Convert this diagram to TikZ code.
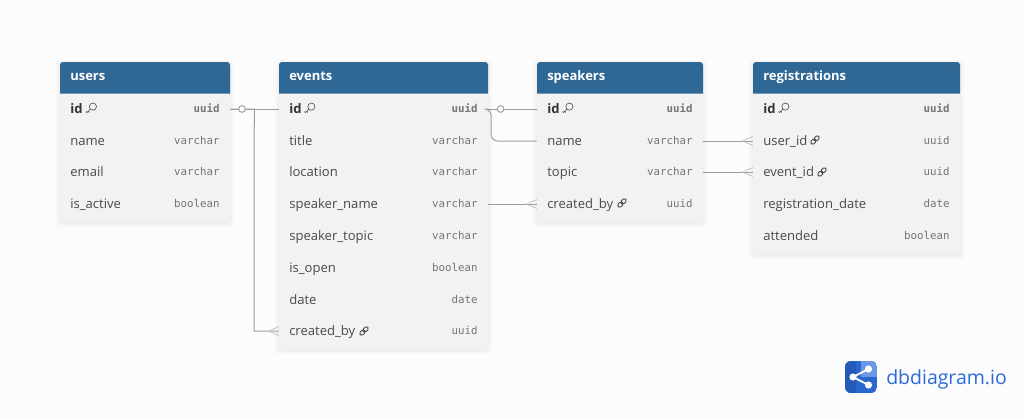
\documentclass[tikz,border=0pt]{standalone}
\usepackage{fontspec}
\setmainfont{Open Sans}
\newfontfamily\typefont{DejaVu Sans Mono}
\newfontfamily\logofont{Open Sans}
\usetikzlibrary{calc}
\definecolor{pagebg}{HTML}{FCFCFC}
\definecolor{headblue}{HTML}{306895}
\definecolor{rowbg}{HTML}{F2F2F2}
\definecolor{conn}{HTML}{9C9CA6}
\definecolor{crow}{HTML}{BCBCC4}
\definecolor{nametxt}{HTML}{4A4A4A}
\definecolor{typetxt}{HTML}{757575}
\definecolor{logoblue}{HTML}{2B6BD9}
\tikzset{
  tablebody/.style={fill=rowbg,draw=none,rounded corners=2.2pt},
  headbox/.style={fill=headblue,draw=none,rounded corners=2.2pt},
  headtxt/.style={anchor=base west,inner sep=0pt,text=white,font=\fontsize{9.75}{12}\selectfont\bfseries},
  rowbox/.style={inner sep=0pt,minimum height=18pt,draw=none,fill=none},
  fieldtxt/.style={anchor=base west,inner sep=0pt,text=nametxt,font=\fontsize{9.8}{12}\selectfont},
  keytxt/.style={fieldtxt,text=black!80,font=\fontsize{9.8}{12}\selectfont\bfseries},
  typetext/.style={anchor=base east,inner sep=0pt,text=typetxt,font=\fontsize{8.1}{10}\typefont},
  keytype/.style={typetext,font=\fontsize{8.1}{10}\typefont\bfseries},
  connector/.style={draw=conn,line width=0.75pt},
  crowfoot/.style={draw=crow,line width=0.55pt},
  ringmark/.style={circle,draw=conn,fill=pagebg,line width=0.7pt,inner sep=0pt,minimum size=5pt},
  glyph/.style={draw=black!70,line width=0.45pt,fill=none},
}
% table frame: name, left, right, bottom, title
\newcommand{\tableframe}[5]{%
  \foreach \k/\o in {5/0.006,4/0.007,3/0.009,2/0.011,1/0.014}{
    \fill[black,opacity=\o,rounded corners=3pt] (#2-\k,62-\k+2) rectangle (#3+\k,#4+\k+2);}
  \fill[tablebody] (#2,62) rectangle (#3,#4);
  \fill[headbox] (#2,62) [sharp corners] -- (#2,93.5) -- (#3,93.5) [rounded corners=2.2pt] -- (#3,62) -- cycle;
  \node[headtxt] (#1head) at (#2+10,80.5) {#5};
}
% row: id, left, right, ycentre, field, type
\newcommand{\rowfield}[6]{%
  \node[rowbox,minimum width={(#3-#2)*0.75pt}] (#1) at ({(#2+#3)/2},#4) {};
  \node[fieldtxt] (#1n) at (#2+10,#4+4.4) {#5};
  \node[typetext] (#1t) at (#3-10,#4+3.4) {#6};
}
\newcommand{\rowkey}[6]{%
  \node[rowbox,minimum width={(#3-#2)*0.75pt}] (#1) at ({(#2+#3)/2},#4) {};
  \node[keytxt] (#1n) at (#2+10,#4+4.4) {#5};
  \node[keytype] (#1t) at (#3-10,#4+3.4) {#6};
}
\newcommand{\keyicon}[2]{%
  \begin{scope}[shift={(#1,#2)}]
    \draw[glyph] (1.4,-1.4) circle (3.6);
    \draw[glyph] (-1.1,1.1) -- (-4.8,4.8) -- (-5.2,3.2) (-3.4,3.4) -- (-2,4.4);
  \end{scope}}
\newcommand{\linkicon}[2]{%
  \begin{scope}[shift={(#1,#2)}]
    \draw[glyph,line width=0.7pt,rotate=45,rounded corners=1.3pt] (-5.2,-1.9) rectangle (0.8,1.9);
    \draw[glyph,line width=0.7pt,rotate=45,rounded corners=1.3pt] (-0.8,-1.9) rectangle (5.2,1.9);
  \end{scope}}
\newcommand{\crowend}[1]{%
  \draw[crowfoot] (#1) ++(-10,0) -- ++(10,-4.5);
  \draw[crowfoot] (#1) ++(-10,0) -- ++(10,4.5);
}
\begin{document}
\begin{tikzpicture}[x=0.75pt,y=-0.75pt]
\fill[pagebg] (0,0) rectangle (1024,419);
\useasboundingbox (0,0) rectangle (1024,419);

\tableframe{users}{60}{230}{221}{users}
\rowkey{usersid}{60}{230}{109}{id}{uuid}
\rowfield{usersname}{60}{230}{141}{name}{varchar}
\rowfield{usersemail}{60}{230}{172}{email}{varchar}
\rowfield{usersactive}{60}{230}{204}{is\_active}{boolean}
\keyicon{91.5}{108}

\tableframe{events}{279}{488}{348}{events}
\rowkey{eventsid}{279}{488}{109}{id}{uuid}
\rowfield{eventstitle}{279}{488}{141}{title}{varchar}
\rowfield{eventslocation}{279}{488}{172}{location}{varchar}
\rowfield{eventsspname}{279}{488}{204}{speaker\_name}{varchar}
\rowfield{eventsspt}{279}{488}{236}{speaker\_topic}{varchar}
\rowfield{eventsopen}{279}{488}{268}{is\_open}{boolean}
\rowfield{eventsdate}{279}{488}{300}{date}{date}
\rowfield{eventscb}{279}{488}{331}{created\_by}{uuid}
\keyicon{310}{108}
\linkicon{364}{331}

\tableframe{speakers}{537}{703}{221}{speakers}
\rowkey{spid}{537}{703}{109}{id}{uuid}
\rowfield{spname}{537}{703}{141}{name}{varchar}
\rowfield{sptopic}{537}{703}{172}{topic}{varchar}
\rowfield{spcb}{537}{703}{204}{created\_by}{uuid}
\keyicon{568}{108}
\linkicon{622}{203}

\tableframe{reg}{753}{960}{253}{registrations}
\rowkey{regid}{753}{960}{109}{id}{uuid}
\rowfield{reguser}{753}{960}{141}{user\_id}{uuid}
\rowfield{regevent}{753}{960}{172}{event\_id}{uuid}
\rowfield{regdate}{753}{960}{204}{registration\_date}{date}
\rowfield{regatt}{753}{960}{236}{attended}{boolean}
\keyicon{784}{108}
\linkicon{815}{140}
\linkicon{822}{172}

% connectors
\draw[connector] (usersid.east) -- (eventsid.west);
\draw[connector] (usersid.east) -- ++(24,0) -- (254,331) -- (eventscb.west);
\crowend{eventscb.west}
\node[ringmark] (ringa) at (242,109) {};
\draw[connector] (eventsid.east) -- (spid.west);
\draw[connector,rounded corners=5pt] (eventsid.east) -- ++(3,0) -- (491,141) -- (spname.west);
\node[ringmark] (ringb) at (500.5,109) {};
\draw[connector] (eventsspname.east) -- (spcb.west);
\crowend{spcb.west}
\draw[connector] (spname.east) -- (reguser.west);
\crowend{reguser.west}
\draw[connector] (sptopic.east) -- (regevent.west);
\crowend{regevent.west}

% logo
\begin{scope}
  \clip[rounded corners=4.5pt] (845,361) rectangle (877,393);
  \fill[logoblue!95!black] (845,361) rectangle (877,393);
  \fill[logoblue!70!white] (861,361) rectangle (877,377);
  \fill[logoblue!85!black] (845,361) rectangle (856,393);
\end{scope}
\coordinate (la) at (853,377);
\coordinate (lb) at (868.5,369);
\coordinate (lc) at (868.5,385);
\draw[white,line width=1.4pt] (lb) -- (la) -- (lc);
\fill[white] (la) circle (3.6) (lb) circle (3.6) (lc) circle (3.6);
\node[anchor=base west,inner sep=0pt,text=logoblue,font=\fontsize{14.6}{20}\logofont] (logotext) at (886,384) {dbdiagram.io};
\end{tikzpicture}
\end{document}
